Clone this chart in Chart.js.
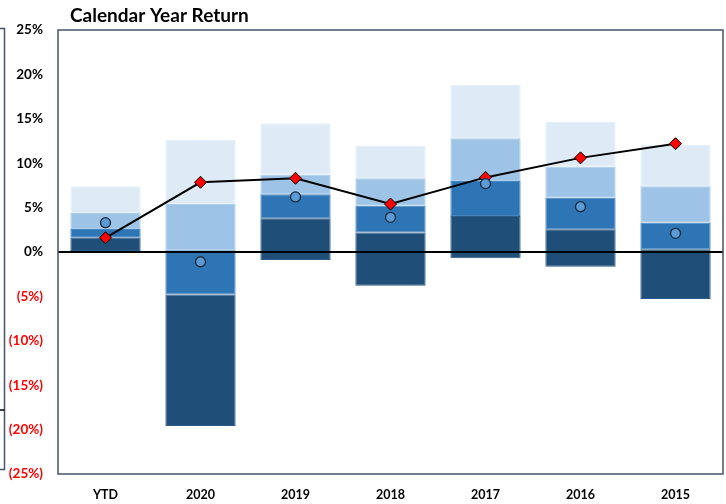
<!DOCTYPE html>
<html>
<head>
<meta charset="utf-8">
<script src="https://cdn.jsdelivr.net/npm/chart.js@4/dist/chart.umd.min.js"></script>
<style>
  html, body { margin: 0; padding: 0; background: #ffffff; }
  #wrap { position: relative; width: 726px; height: 504px; }
</style>
</head>
<body>
<div id="wrap"><canvas id="c" width="726" height="504"></canvas></div>
<script>
// ---- Data ----
const categories = ["YTD", "2020", "2019", "2018", "2017", "2016", "2015"];
// Range boundaries, bottom to top (percent)
const pBottom = [0.1, -19.6, -0.9, -3.8, -0.7, -1.65, -5.3];
const pLow    = [1.6,  -4.8,  3.8,  2.2,  4.05,  2.55,  0.3];
const pMid    = [2.6,   0.2,  6.5,  5.2,  8.0,   6.1,   3.3];
const pHigh   = [4.4,   5.4,  8.7,  8.3, 12.8,   9.6,   7.4];
const pTop    = [7.4,  12.6, 14.5, 12.0, 18.8,  14.7,  12.05];
// Circle markers and red diamond line
const circleValues  = [3.3, -1.1, 6.2, 3.9, 7.7, 5.1, 2.1];
const diamondValues = [1.6, 7.85, 8.3, 5.4, 8.4, 10.6, 12.2];
// Y ticks
const yTicks = [-25, -20, -15, -10, -5, 0, 5, 10, 15, 20, 25];

const titleText = "Calendar Year Return";
const FONT = "Lato, 'Open Sans', sans-serif";

function ranges(lo, hi) { return lo.map((v, i) => [v, hi[i]]); }

const barCommon = {
  type: 'bar',
  grouped: false,
  order: 1,
  categoryPercentage: 1.0,
  barPercentage: 0.74,
  borderWidth: 1,
  borderSkipped: false
};

const frameLine = {
  id: 'frameLine',
  afterDatasetDraw(chart, args) {
    if (args.index !== 0) return;
    const ctx = chart.ctx, a = chart.chartArea, y = chart.scales.y.getPixelForValue(0);
    ctx.save();
    ctx.strokeStyle = '#000000';
    ctx.lineWidth = 2;
    ctx.beginPath();
    ctx.moveTo(a.left, y);
    ctx.lineTo(a.right, y);
    ctx.stroke();
    ctx.restore();
  },
  afterDraw(chart) {
    const ctx = chart.ctx, a = chart.chartArea;
    ctx.save();
    // plot frame
    ctx.strokeStyle = '#44546A';
    ctx.lineWidth = 1.5;
    ctx.strokeRect(a.left, a.top, a.right - a.left, a.bottom - a.top);
    // stray frame piece at far left edge
    ctx.beginPath();
    ctx.moveTo(0, 28.5); ctx.lineTo(4.5, 28.5); ctx.lineTo(4.5, 469.5); ctx.lineTo(0, 469.5);
    ctx.stroke();
    ctx.strokeStyle = '#000000';
    ctx.lineWidth = 1.5;
    ctx.beginPath();
    ctx.moveTo(0, 410); ctx.lineTo(4.5, 410);
    ctx.stroke();
    // title
    ctx.fillStyle = '#000000';
    ctx.font = 'bold 19px ' + FONT;
    ctx.textAlign = 'left';
    ctx.textBaseline = 'middle';
    ctx.fillText(titleText, 70, 16);
    ctx.restore();
  }
};

new Chart(document.getElementById('c'), {
  data: {
    labels: categories,
    datasets: [
      Object.assign({}, barCommon, { label: 'Bottom range', data: ranges(pBottom, pLow), backgroundColor: '#1F4E79', borderColor: '#2C5C88' }),
      Object.assign({}, barCommon, { label: 'Lower range',  data: ranges(pLow, pMid),    backgroundColor: '#2E75B6', borderColor: '#4585C0' }),
      Object.assign({}, barCommon, { label: 'Upper range',  data: ranges(pMid, pHigh),   backgroundColor: '#9DC3E6', borderColor: '#ADCDEA' }),
      Object.assign({}, barCommon, { label: 'Top range',    data: ranges(pHigh, pTop),   backgroundColor: '#DEEBF7', borderColor: '#E6F0F9' }),
      {
        type: 'line', label: 'Median', data: circleValues, order: 0,
        showLine: false, pointStyle: 'circle', pointRadius: 5,
        pointBackgroundColor: '#5B9BD5', pointBorderColor: '#1B2A3A', pointBorderWidth: 1.3
      },
      {
        type: 'line', label: 'Fund', data: diamondValues, order: 0,
        borderColor: '#000000', borderWidth: 2, tension: 0,
        pointStyle: 'rectRot', pointRadius: 6,
        pointBackgroundColor: '#FF0000', pointBorderColor: '#000000', pointBorderWidth: 1
      }
    ]
  },
  options: {
    responsive: false,
    animation: false,
    layout: { autoPadding: false, padding: { top: 30, right: 3, left: 0, bottom: 0 } },
    plugins: { legend: { display: false }, tooltip: { enabled: false }, title: { display: false } },
    scales: {
      x: {
        grid: { display: false, drawTicks: false },
        border: { display: false },
        ticks: { padding: 13, color: '#000000', font: { family: FONT, size: 12.5, weight: 'bold' } },
        afterFit(s) { s.height = 30; s.paddingLeft = 0; s.paddingRight = 0; }
      },
      y: {
        min: -25, max: 25,
        afterBuildTicks(s) { s.ticks = yTicks.map(v => ({ value: v })); },
        grid: { display: false, drawTicks: false },
        border: { display: false },
        ticks: {
          padding: 15,
          font: { family: FONT, size: 13.5, weight: 'bold' },
          color: (c) => (c.tick && c.tick.value < 0) ? '#FF0000' : '#000000',
          callback: (v) => v < 0 ? '(' + (-v) + '%)' : v + '%'
        },
        afterFit(s) { s.width = 58; s.paddingTop = 0; s.paddingBottom = 0; }
      }
    }
  },
  plugins: [frameLine]
});
</script>
</body>
</html>
